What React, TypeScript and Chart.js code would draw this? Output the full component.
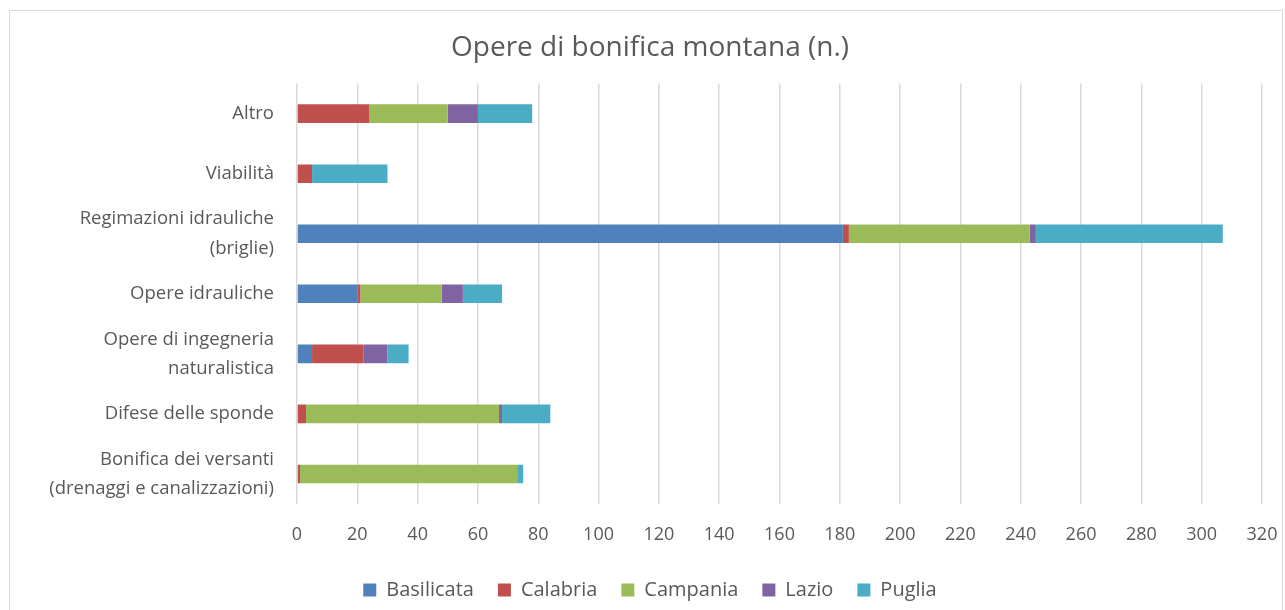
import React, { useEffect, useRef } from "react";
import { Chart, registerables } from "chart.js";

Chart.register(...registerables);

const categories: (string | string[])[] = [
  "Altro",
  "Viabilità",
  ["Regimazioni idrauliche", "(briglie)"],
  "Opere idrauliche",
  ["Opere di ingegneria", "naturalistica"],
  "Difese delle sponde",
  ["Bonifica dei versanti", "(drenaggi e canalizzazioni)"],
];

const basilicata = [0, 0, 181, 20, 5, 0, 0];
const calabria = [24, 5, 2, 1, 17, 3, 1];
const campania = [26, 0, 60, 27, 0, 64, 72];
const lazio = [10, 0, 2, 7, 8, 1, 0];
const puglia = [18, 25, 62, 13, 7, 16, 2];

const seriesNames = ["Basilicata", "Calabria", "Campania", "Lazio", "Puglia"];
const seriesColors = ["#4F81BD", "#C0504D", "#9BBB59", "#8064A2", "#4BACC6"];

const xTicksMax = 320;
const xTicksStep = 20;

const FONT = "'Open Sans'";
const TEXT = "#595959";

export default function App() {
  const ref = useRef<HTMLCanvasElement>(null);

  useEffect(() => {
    document.body.style.margin = "0";
    const ctx = ref.current!;
    const seriesData = [basilicata, calabria, campania, lazio, puglia];
    const bgPlugin = {
      id: "bg",
      beforeDraw(chart: any) {
        const c = chart.ctx;
        c.save();
        c.fillStyle = "#ffffff";
        c.fillRect(0, 0, chart.width, chart.height);
        c.strokeStyle = "#d9d9d9";
        c.lineWidth = 1;
        c.strokeRect(9.5, 10.5, 1273, 640);
        c.restore();
      },
    };
    const chart = new Chart(ctx, {
      type: "bar",
      data: {
        labels: categories,
        datasets: seriesNames.map((n, i) => ({
          label: n,
          data: seriesData[i],
          backgroundColor: seriesColors[i],
          borderWidth: 0,
          barPercentage: 0.62,
          categoryPercentage: 0.5,
        })),
      },
      options: {
        indexAxis: "y",
        responsive: false,
        animation: false,
        layout: { padding: { left: 38, right: 23, top: 0, bottom: 0 } },
        scales: {
          x: {
            stacked: true,
            min: 0,
            max: xTicksMax,
            ticks: {
              stepSize: xTicksStep,
              color: TEXT,
              font: { family: FONT, size: 18 },
              padding: 20,
            },
            grid: { color: "#d9d9d9", lineWidth: 1.5, drawTicks: false },
            border: { display: false },
            afterFit(scale: any) {
              scale.height = 52;
              scale.paddingRight = 0;
              scale.paddingLeft = 0;
            },
          },
          y: {
            stacked: true,
            ticks: {
              autoSkip: false,
              color: TEXT,
              font: { family: FONT, size: 18.5, lineHeight: 1.58 },
              padding: 23,
            },
            grid: { display: false, drawTicks: false },
            border: { display: false },
            afterFit(scale: any) {
              scale.width = 259;
            },
          },
        },
        plugins: {
          title: {
            display: true,
            text: "Opere di bonifica montana (n.)",
            color: TEXT,
            font: { family: FONT, size: 28, weight: "normal" },
            padding: { top: 31, bottom: 19 },
          },
          legend: {
            position: "bottom",
            maxHeight: 54,
            labels: {
              color: TEXT,
              font: { family: FONT, size: 20 },
              boxWidth: 13,
              boxHeight: 13,
              padding: 24,
            },
          },
          tooltip: { enabled: false },
        },
      },
      plugins: [bgPlugin],
    });
    return () => chart.destroy();
  }, []);

  return (
    <div style={{ width: 1285, height: 610 }}>
      <canvas ref={ref} width={1285} height={610} />
    </div>
  );
}
